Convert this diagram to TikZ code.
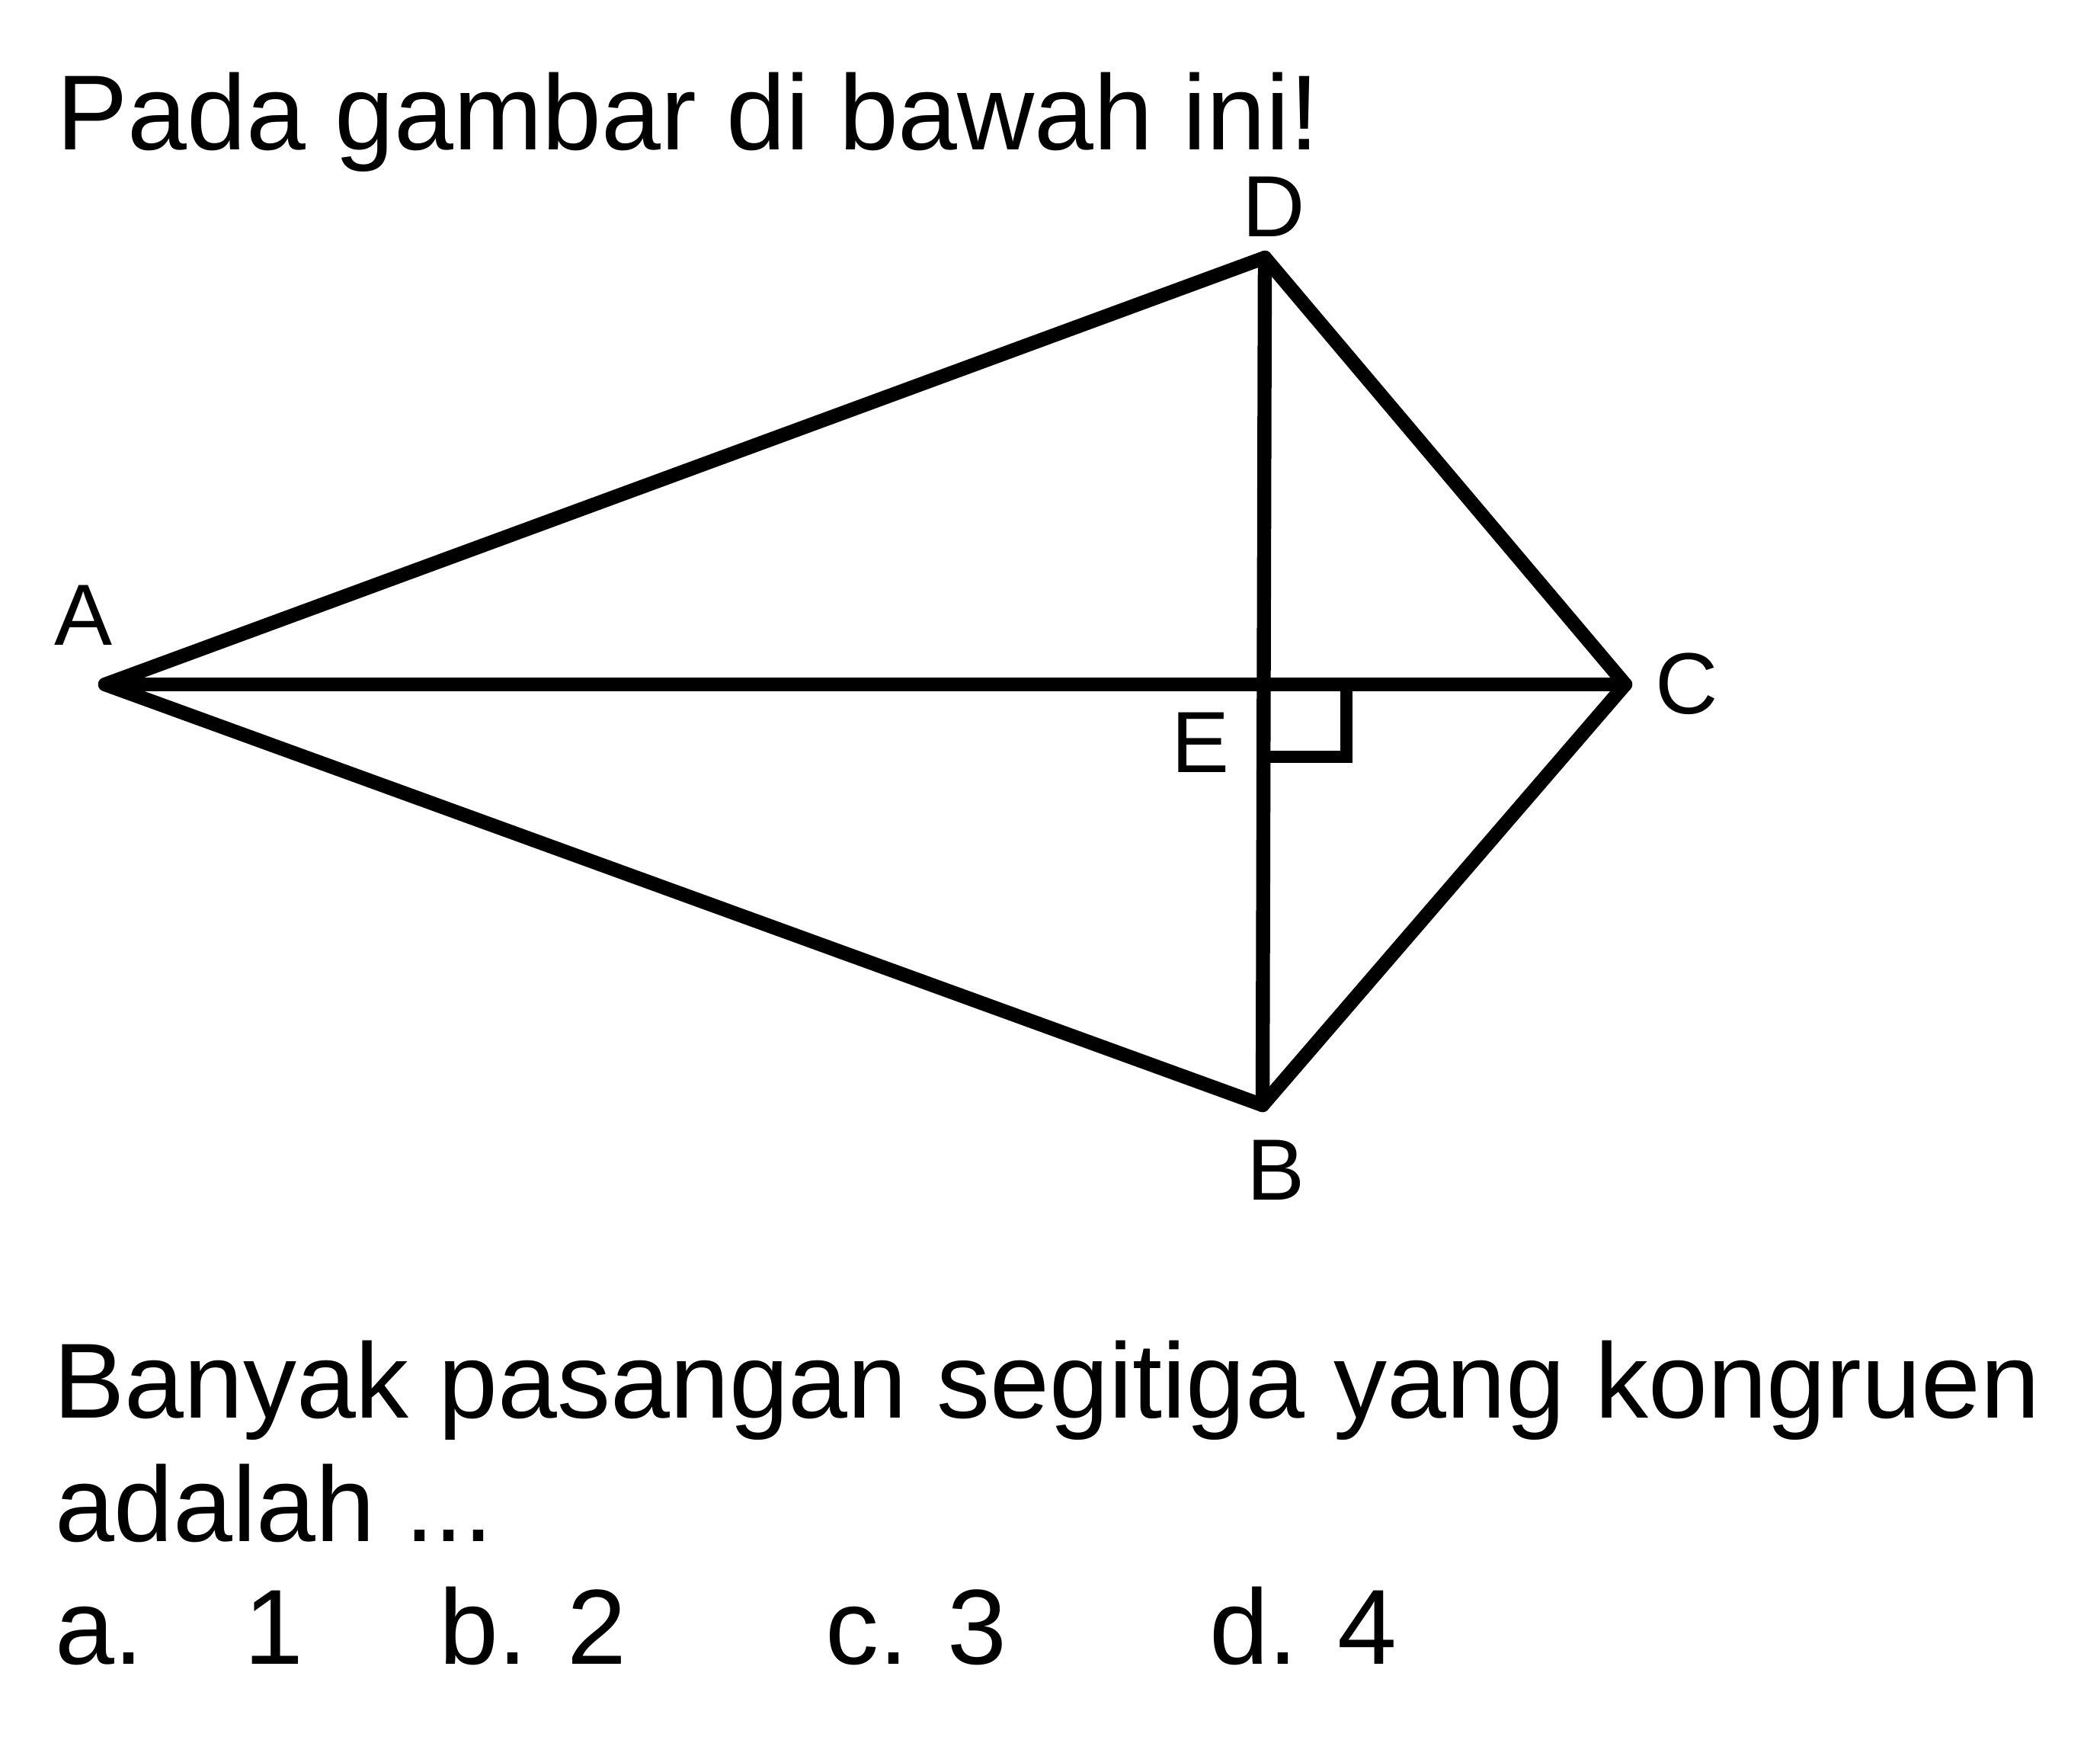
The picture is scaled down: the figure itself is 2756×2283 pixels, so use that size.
\documentclass[tikz,border=0pt]{standalone}
\usepackage{fontspec}
\setmainfont{Liberation Sans}
\begin{document}
\begin{tikzpicture}[x=0.25pt,y=-0.25pt,
  edge/.style={line width=4.6pt, line cap=round, line join=round},
  marksq/.style={line width=4pt, line join=miter},
  maintext/.style={anchor=base west, inner sep=0pt, outer sep=0pt, font=\fontsize{35}{42}\selectfont},
  vlabel/.style={anchor=base, inner sep=0pt, outer sep=0pt, font=\fontsize{28.5}{34}\selectfont}]
\useasboundingbox (0,0) rectangle (2756,2283);
% vertices
\coordinate (A) at (138,898);
\coordinate (D) at (1660,338);
\coordinate (C) at (2133,898);
\coordinate (B) at (1657,1450);
\coordinate (E) at (1658,898);
% kite
\draw[edge] (A) -- (D) -- (C) -- (B) -- cycle;
\draw[edge] (A) -- (C);
\draw[edge] (D) -- (B);
% right angle mark
\draw[marksq] (E) rectangle ++(109,95);
% vertex labels
\node[vlabel] (lA) at (110,846) {A};
\node[vlabel] (lD) at (1672,310) {D};
\node[vlabel] (lC) at (2214,936) {C};
\node[vlabel] (lE) at (1576,1013) {E};
\node[vlabel] (lB) at (1675,1574) {B};
% texts
\node[maintext] (t1) at (74,196) {Pada gambar di bawah ini!};
\node[maintext] (t2) at (70,1860) {Banyak pasangan segitiga yang kongruen};
\node[maintext] (t3) at (72,2022) {adalah ...};
\node[maintext] (oa) at (72,2183) {a.};
\node[maintext] (o1) at (320,2183) {1};
\node[maintext] (ob) at (576,2183) {b. 2};
\node[maintext] (oc) at (1083,2183) {c. 3};
\node[maintext] (od) at (1587,2183) {d. 4};
\end{tikzpicture}
\end{document}
